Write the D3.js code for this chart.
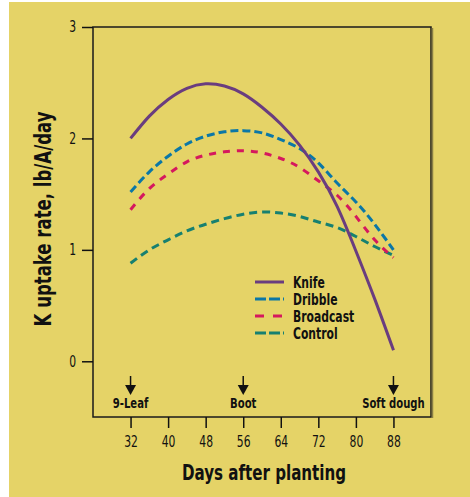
<!DOCTYPE html>
<html>
<head>
<meta charset="utf-8">
<script src="https://cdn.jsdelivr.net/npm/d3@7"></script>
<style>
  html, body { margin: 0; padding: 0; background: #ffffff; }
  svg { display: block; }
  text { font-family: "Liberation Sans Narrow", "Arial Narrow", "DejaVu Sans Condensed", sans-serif; }
</style>
</head>
<body>
<svg id="chart" width="470" height="497"></svg>
<script>
// ---- data ----
const days = [32, 36, 40, 44, 48, 52, 56, 60, 64, 68, 72, 76, 80, 84, 88];
const knife     = [2.00, 2.20, 2.35, 2.45, 2.49, 2.47, 2.40, 2.28, 2.13, 1.94, 1.70, 1.39, 0.99, 0.56, 0.10];
const dribble   = [1.52, 1.70, 1.84, 1.95, 2.02, 2.06, 2.07, 2.05, 1.99, 1.91, 1.78, 1.60, 1.43, 1.23, 1.00];
const broadcast = [1.36, 1.55, 1.68, 1.79, 1.85, 1.88, 1.89, 1.87, 1.82, 1.74, 1.62, 1.49, 1.30, 1.09, 0.93];
const control   = [0.88, 1.00, 1.09, 1.17, 1.23, 1.28, 1.32, 1.34, 1.33, 1.30, 1.25, 1.20, 1.12, 1.03, 0.95];
const seriesNames = ["Knife", "Dribble", "Broadcast", "Control"];
const xTicks = [32, 40, 48, 56, 64, 72, 80, 88];
const yTicks = [0, 1, 2, 3];
const stageDays = [32, 56, 88];
const stageLabels = ["9-Leaf", "Boot", "Soft dough"];
const xTitle = "Days after planting";
const yTitle = "K uptake rate, lb/A/day";

// ---- styles ----
const colors = ["#6A3D7F", "#0B77A6", "#D5185E", "#178070"];
const dashes = [null, "8,4", "7,7", "8,5"];
const bg = "#E5D367";
const SQ = 0.8; // horizontal condensing of text

const svg = d3.select("#chart");
svg.append("rect").attr("x", 9).attr("y", 2).attr("width", 461).attr("height", 495).attr("fill", bg);

const x = d3.scaleLinear().domain([24, 96]).range([93, 431]);
const y = d3.scaleLinear().domain([-0.5, 3]).range([417, 27]);

function ctext(parent, str, px, py, size, anchor, bold, rot) {
  return parent.append("text").text(str)
    .attr("transform", `translate(${px},${py})` + (rot ? ` rotate(${rot})` : "") + ` scale(${SQ},1)`)
    .attr("text-anchor", anchor)
    .attr("font-size", size)
    .attr("font-weight", bold ? "bold" : "normal")
    .attr("fill", "#111");
}

// plot frame
svg.append("rect")
  .attr("x", x(24)).attr("y", y(3))
  .attr("width", x(96) - x(24)).attr("height", y(-0.5) - y(3))
  .attr("fill", "none").attr("stroke", "#1a1a1a").attr("stroke-width", 1.5);
svg.append("line")
  .attr("x1", x(96) + 1.5).attr("x2", x(96) + 1.5)
  .attr("y1", y(3) + 1).attr("y2", y(-0.5) + 1)
  .attr("stroke", "#8a7f45").attr("stroke-width", 1.5);

// axes
const yAxis = svg.append("g").attr("transform", `translate(${x(24)},0)`)
  .call(d3.axisLeft(y).tickValues(yTicks).tickSize(11).tickPadding(6).tickFormat(d3.format("d")));
yAxis.select(".domain").remove();
yAxis.selectAll(".tick line").attr("stroke", "#111").attr("stroke-width", 1.5);
yAxis.selectAll(".tick text").attr("font-size", 15).attr("fill", "#111")
  .attr("x", -17 / SQ).attr("transform", `scale(${SQ},1)`)
  .style("font-family", '"Liberation Sans Narrow", "Arial Narrow", "DejaVu Sans Condensed", sans-serif');

const xAxis = svg.append("g").attr("transform", `translate(0,${y(-0.5)})`)
  .call(d3.axisBottom(x).tickValues(xTicks).tickSize(11).tickPadding(8).tickFormat(d3.format("d")));
xAxis.select(".domain").remove();
xAxis.selectAll(".tick line").attr("stroke", "#111").attr("stroke-width", 1.5);
xAxis.selectAll(".tick text").attr("font-size", 15).attr("fill", "#111")
  .attr("transform", `scale(${SQ},1)`)
  .style("font-family", '"Liberation Sans Narrow", "Arial Narrow", "DejaVu Sans Condensed", sans-serif');

// titles
ctext(svg, xTitle, 264, 480, 21, "middle", true, 0);
ctext(svg, yTitle, 51, 219, 23, "middle", true, -90);

// curves
const allSeries = [knife, dribble, broadcast, control];
const line = d3.line().x((d, i) => x(days[i])).y(d => y(d)).curve(d3.curveNatural);
[3, 2, 1, 0].forEach(k => {
  svg.append("path").datum(allSeries[k])
    .attr("d", line)
    .attr("fill", "none")
    .attr("stroke", colors[k])
    .attr("stroke-width", 3)
    .attr("stroke-dasharray", dashes[k]);
});

// stage markers
stageDays.forEach((d, i) => {
  const cx = x(d);
  svg.append("line").attr("x1", cx).attr("x2", cx).attr("y1", 376).attr("y2", 388)
    .attr("stroke", "#111").attr("stroke-width", 1.5);
  svg.append("path").attr("d", `M${cx - 5.5},${385} L${cx + 5.5},${385} L${cx},${395} Z`).attr("fill", "#111");
  ctext(svg, stageLabels[i], cx, 408, 14, "middle", true, 0);
});

// legend
const legend = svg.append("g");
seriesNames.forEach((name, k) => {
  const ly = 282 + k * 17;
  legend.append("line").attr("x1", 255).attr("x2", 284).attr("y1", ly).attr("y2", ly)
    .attr("stroke", colors[k]).attr("stroke-width", 3)
    .attr("stroke-dasharray", k === 0 ? null : (k === 2 ? "9,9" : "11,3"));
  ctext(legend, name, 293, ly + 5.5, 15, "start", true, 0);
});
</script>
</body>
</html>
